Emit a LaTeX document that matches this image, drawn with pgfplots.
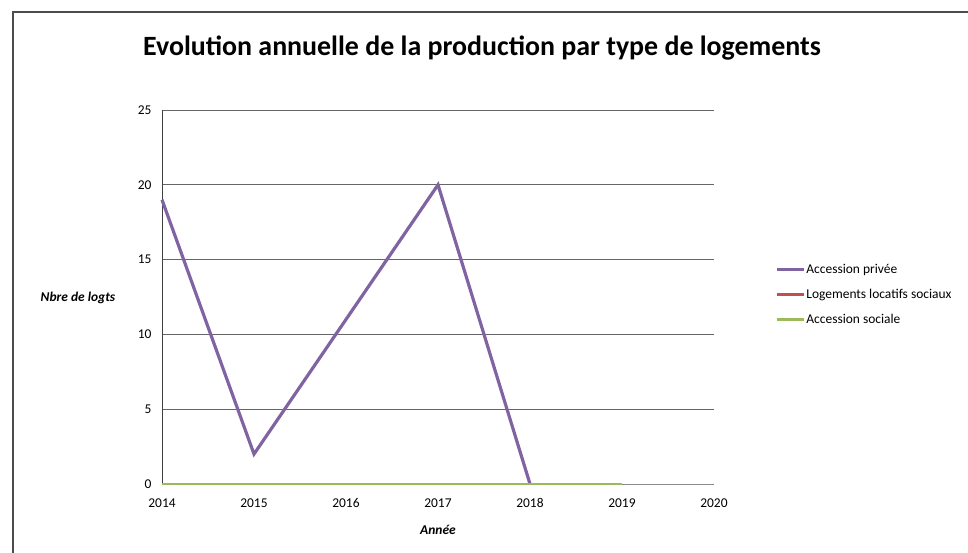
\documentclass[border=0pt]{standalone}
\usepackage{fontspec}
\setmainfont{Carlito}
\usepackage{pgfplots}
\pgfplotsset{compat=1.18}
\definecolor{xlpurple}{RGB}{128,100,162}
\definecolor{xlred}{RGB}{192,80,77}
\definecolor{xlgreen}{RGB}{155,187,89}

\begin{document}
\begin{tikzpicture}
\useasboundingbox (0,0) rectangle (968bp,553bp);
% cadre du graphique
\draw[black!70, line width=1.2pt] (13bp,0) -- (13bp,541bp) -- (968bp,541bp);
\node[font=\fontsize{28}{32}\selectfont\bfseries] at (482bp,505bp) {Evolution annuelle de la production par type de logements};
\begin{axis}[
  at={(162bp,69bp)}, anchor=origin,
  scale only axis, width=552bp, height=374bp,
  xmin=2014, xmax=2020, ymin=0, ymax=25,
  xtick={2014,...,2020}, ytick={0,5,...,25},
  axis x line=bottom, axis y line=left,
  axis line style={black!75, -}, x axis line style={black!45},
  major tick length=0pt,
  ymajorgrids, grid style={black!60, line width=0.8pt},
  tick label style={font=\fontsize{13.5}{15}\selectfont},
  /pgf/number format/assume math mode=true,
  xticklabel style={/pgf/number format/set thousands separator={}, yshift=-11bp},
  yticklabel style={xshift=-7bp},
  xlabel={\itshape\bfseries Année},
  xlabel style={font=\fontsize{13.5}{15}\selectfont, yshift=-11bp},
  ylabel={\itshape\bfseries Nbre de logts},
  ylabel style={font=\fontsize{13.5}{15}\selectfont, rotate=-90, at={(-84bp,186bp)}, anchor=center},
  legend style={draw=none, fill=none, at={(613bp,222bp)}, anchor=north west,
    font=\fontsize{13.5}{15}\selectfont, row sep=10bp, inner sep=0pt,
    nodes={inner xsep=1bp}},
  legend cell align=left,
  legend image code/.code={\draw[#1, line width=3.2pt] (0,0) -- (27bp,0);},
  clip=false,
]
\addplot[xlpurple, line width=3.2pt] coordinates {
  (2014,19) (2015,2) (2016,11) (2017,20) (2018,0)
};
\addlegendentry{Accession privée}
\addplot[xlred, line width=3pt] coordinates {
  (2014,0) (2015,0) (2016,0) (2017,0) (2018,0) (2019,0)
};
\addlegendentry{Logements locatifs sociaux}
\addplot[xlgreen, line width=3pt] coordinates {
  (2014,0) (2015,0) (2016,0) (2017,0) (2018,0) (2019,0)
};
\addlegendentry{Accession sociale}
\end{axis}
\end{tikzpicture}
\end{document}
